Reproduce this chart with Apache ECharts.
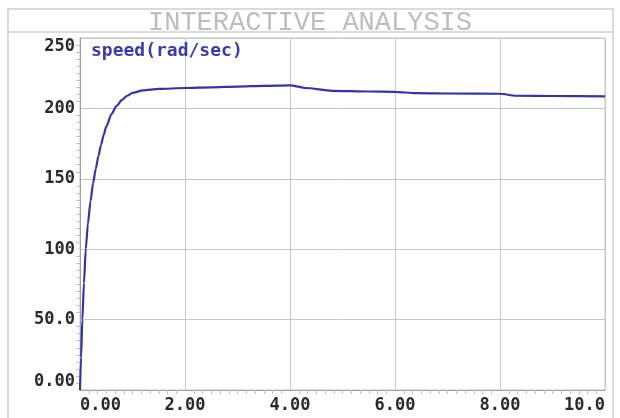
<!DOCTYPE html>
<html>
<head>
<meta charset="utf-8">
<script src="https://cdn.jsdelivr.net/npm/echarts@6/dist/echarts.min.js"></script>
<style>html,body{margin:0;padding:0;background:#fff}#c{width:620px;height:418px}</style>
</head>
<body>
<div id="c"></div>
<script>
var chartTitle = 'INTERACTIVE ANALYSIS';
var seriesName = 'speed(rad/sec)';
var timeValues = [0, 0.02, 0.045, 0.075, 0.11, 0.15, 0.2, 0.25, 0.3, 0.35, 0.4, 0.45, 0.5, 0.6, 0.7, 0.8, 0.9, 1.0, 1.2, 1.5, 2.0, 2.5, 3.0, 3.5, 4.0, 4.3, 4.8, 5.5, 6.0, 6.4, 7.0, 8.0, 8.3, 9.0, 10.0];
var speedValues = [0, 23, 50, 76, 100, 118, 134, 147, 157, 166, 174, 181, 187, 196, 202, 206, 209, 211, 212.8, 213.8, 214.5, 215, 215.5, 216, 216.4, 214.5, 212.5, 212, 211.8, 210.8, 210.6, 210.4, 209, 208.8, 208.6];
var yTickLabels = {0: '0.00', 50: '50.0', 100: '100', 150: '150', 200: '200', 250: '250'};
var xTickLabels = {0: '0.00', 2: '2.00', 4: '4.00', 6: '6.00', 8: '8.00', 10: '10.0'};

var data = timeValues.map(function (t, i) { return [t, speedValues[i]]; });
var chart = echarts.init(document.getElementById('c'), null, {renderer: 'canvas'});
var labelFont = {fontFamily: 'DejaVu Sans Mono', fontWeight: 'bold', fontSize: 17, color: '#2a2a2a'};
chart.setOption({
  animation: false,
  backgroundColor: '#fff',
  title: [{
    text: chartTitle, left: 'center', top: 9, padding: 0,
    textStyle: {fontFamily: 'Liberation Mono', fontWeight: 'normal', fontSize: 27, color: '#bdbdbd'}
  }, {
    text: seriesName, left: 86, top: 37,
    textStyle: {fontFamily: 'DejaVu Sans Mono', fontWeight: 'bold', fontSize: 18, color: '#3a3aae'}
  }],
  graphic: [
    {type: 'rect', shape: {x: 8, y: 9, width: 605, height: 430}, style: {fill: 'none', stroke: '#cfcfcf', lineWidth: 1.5}, silent: true},
    {type: 'line', shape: {x1: 8, y1: 32, x2: 613, y2: 32}, style: {stroke: '#cfcfcf', lineWidth: 1.5}, silent: true}
  ],
  grid: {left: 80, right: 15, top: 38, bottom: 28, show: true, borderColor: '#c4c4c4', borderWidth: 1, containLabel: false},
  xAxis: {
    type: 'value', min: 0, max: 10, interval: 2,
    axisLine: {show: true, lineStyle: {color: '#a0a0a0'}},
    axisTick: {show: false},
    minorTick: {show: true, splitNumber: 12, length: 4, lineStyle: {color: '#c0c0c0'}},
    splitLine: {show: true, lineStyle: {color: '#c8c8c8', width: 1}},
    axisLabel: Object.assign({}, labelFont, {
      margin: 7, alignMinLabel: 'left', alignMaxLabel: 'right',
      formatter: function (v) { return xTickLabels[v] !== undefined ? xTickLabels[v] : ''; }
    })
  },
  yAxis: {
    type: 'value', min: 0, max: 250, interval: 50,
    axisLine: {show: true, lineStyle: {color: '#a0a0a0'}},
    axisTick: {show: false},
    minorTick: {show: true, splitNumber: 10, length: 4, lineStyle: {color: '#c0c0c0'}},
    splitLine: {show: true, lineStyle: {color: '#c8c8c8', width: 1}},
    axisLabel: Object.assign({}, labelFont, {
      margin: 5, verticalAlignMinLabel: 'bottom', verticalAlignMaxLabel: 'top',
      formatter: function (v) { return yTickLabels[v] !== undefined ? yTickLabels[v] : ''; }
    })
  },
  series: [{
    name: seriesName, type: 'line', data: data, showSymbol: false, smooth: 0.25, smoothMonotone: 'x',
    lineStyle: {color: '#3434a6', width: 2.2}, clip: true
  }]
});
</script>
</body>
</html>
